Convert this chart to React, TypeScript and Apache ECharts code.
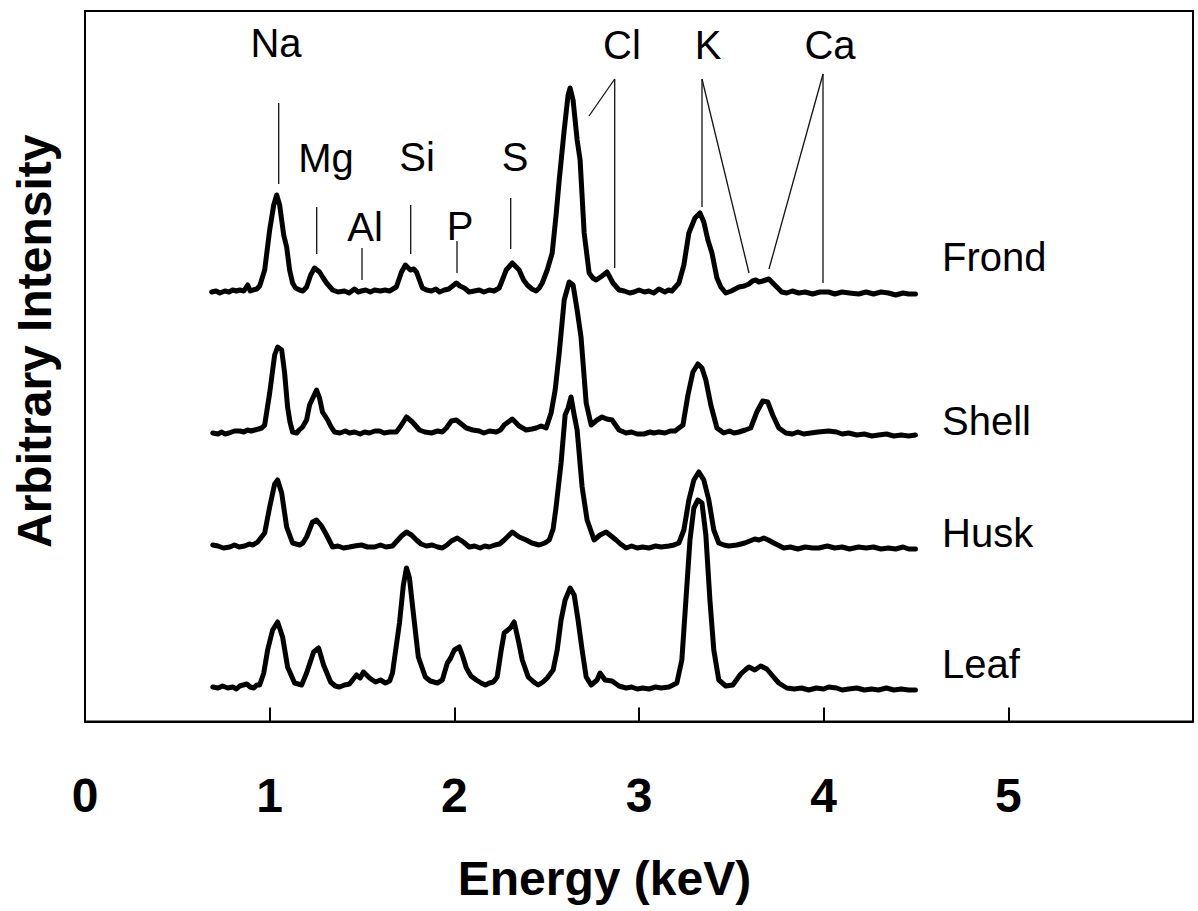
import React, { useEffect, useRef } from "react";
import * as echarts from "echarts";

// Energy (keV) / intensity above each spectrum's own baseline (arbitrary units)
const frond: [number, number][] = [
  [0.686, 0], [0.71, 1], [0.73, -1], [0.757, 1], [0.78, 0], [0.8, 2], [0.82, 1], [0.838, 2],
  [0.86, 1], [0.881, 7], [0.895, 1], [0.91, 2], [0.93, 3], [0.946, 6], [0.973, 22], [1.0, 62],
  [1.022, 87], [1.038, 97], [1.054, 87], [1.076, 57], [1.092, 45], [1.108, 22], [1.124, 9], [1.14, 4],
  [1.162, 2], [1.18, 1], [1.2, 5], [1.222, 17], [1.243, 24], [1.27, 20], [1.29, 14], [1.308, 9],
  [1.341, 2], [1.37, 0], [1.405, 1], [1.43, -1], [1.459, 3], [1.48, 0], [1.497, 1], [1.52, 2],
  [1.545, 0], [1.568, 2], [1.6, 1], [1.625, 2], [1.649, 1], [1.686, 5], [1.714, 20], [1.735, 27],
  [1.762, 22], [1.78, 23], [1.795, 20], [1.827, 4], [1.85, 2], [1.876, 1], [1.9, 3], [1.92, 0],
  [1.946, 2], [1.97, 3], [2.011, 9], [2.03, 6], [2.054, 4], [2.08, 0], [2.108, 1], [2.135, 2],
  [2.16, 0], [2.189, 2], [2.215, 1], [2.243, 4], [2.281, 22], [2.314, 29], [2.351, 22], [2.375, 12],
  [2.395, 7], [2.42, 3], [2.443, 1], [2.46, 4], [2.476, 9], [2.503, 22], [2.53, 39], [2.551, 77],
  [2.568, 112], [2.595, 162], [2.616, 197], [2.627, 204], [2.643, 192], [2.665, 152], [2.681, 132],
  [2.703, 59], [2.73, 19], [2.75, 14], [2.768, 12], [2.8, 16], [2.827, 20], [2.859, 9], [2.892, 2],
  [2.92, 1], [2.95, -1], [2.973, 0], [3.0, 2], [3.03, 0], [3.054, 1], [3.08, -1], [3.108, 3],
  [3.14, 0], [3.16, 2], [3.178, 1], [3.216, 9], [3.243, 27], [3.27, 59], [3.303, 74], [3.33, 79],
  [3.351, 70], [3.373, 52], [3.395, 39], [3.422, 14], [3.443, 5], [3.47, -1], [3.5, 1], [3.541, 5],
  [3.57, 6], [3.595, 8], [3.615, 11], [3.632, 12], [3.65, 10], [3.67, 11], [3.703, 13], [3.735, 7],
  [3.773, 0], [3.8, -1], [3.83, 1], [3.865, -1], [3.9, 0], [3.94, -2], [3.98, 0], [4.027, 0],
  [4.06, -2], [4.1, 0], [4.14, -1], [4.189, -2], [4.23, 0], [4.27, -2], [4.31, 0], [4.351, -1],
  [4.39, -3], [4.43, -1], [4.46, -2], [4.497, -2],
];

const shell: [number, number][] = [
  [0.692, 1], [0.72, 0], [0.74, 2], [0.757, 0], [0.78, 1], [0.81, 3], [0.838, 3], [0.86, 2],
  [0.88, 4], [0.9, 3], [0.919, 4], [0.94, 5], [0.957, 6], [0.973, 9], [1.0, 41], [1.027, 79],
  [1.043, 87], [1.065, 84], [1.081, 61], [1.097, 27], [1.11, 12], [1.124, 2], [1.146, 1], [1.16, 4],
  [1.178, 7], [1.2, 14], [1.216, 29], [1.254, 44], [1.27, 36], [1.286, 22], [1.314, 14], [1.33, 8],
  [1.351, 2], [1.38, 1], [1.41, 3], [1.432, 1], [1.46, 2], [1.49, 0], [1.514, 2], [1.54, 1],
  [1.57, 3], [1.595, 3], [1.62, 1], [1.65, 2], [1.686, 2], [1.71, 8], [1.741, 17], [1.773, 12],
  [1.811, 4], [1.84, 2], [1.876, 1], [1.91, 3], [1.935, 2], [1.957, 6], [1.984, 13], [2.011, 14],
  [2.038, 10], [2.065, 6], [2.1, 4], [2.135, 3], [2.16, 1], [2.19, 3], [2.227, 2], [2.25, 4],
  [2.27, 9], [2.314, 15], [2.351, 8], [2.389, 4], [2.42, 5], [2.443, 6], [2.47, 8], [2.497, 6],
  [2.524, 21], [2.546, 44], [2.568, 81], [2.595, 134], [2.622, 152], [2.643, 149], [2.665, 124],
  [2.686, 97], [2.714, 31], [2.741, 9], [2.773, 14], [2.8, 17], [2.825, 15], [2.854, 14], [2.892, 4],
  [2.93, 1], [2.96, 2], [2.99, 0], [3.027, 0], [3.06, 2], [3.08, 1], [3.108, 2], [3.14, 1],
  [3.17, 3], [3.195, 3], [3.238, 9], [3.265, 39], [3.292, 62], [3.319, 70], [3.341, 66], [3.362, 54],
  [3.389, 29], [3.422, 6], [3.459, 1], [3.49, 3], [3.515, 1], [3.541, 2], [3.575, 4], [3.605, 6],
  [3.638, 22], [3.67, 33], [3.697, 32], [3.724, 19], [3.757, 6], [3.795, 1], [3.83, 0], [3.86, 2],
  [3.892, 0], [3.93, 1], [3.97, 2], [4.027, 3], [4.07, 2], [4.1, 0], [4.135, 1], [4.18, -1],
  [4.22, 0], [4.26, -2], [4.297, -1], [4.34, 0], [4.38, -2], [4.42, -1], [4.46, -2], [4.497, -1],
];

const husk: [number, number][] = [
  [0.692, 2], [0.72, 1], [0.75, -1], [0.784, 0], [0.81, 2], [0.835, 0], [0.865, 1], [0.89, 3],
  [0.91, 2], [0.935, 5], [0.973, 14], [1.0, 40], [1.027, 63], [1.043, 67], [1.065, 54], [1.092, 20],
  [1.124, 4], [1.162, 2], [1.18, 4], [1.2, 10], [1.232, 25], [1.254, 27], [1.281, 21], [1.308, 12],
  [1.341, 0], [1.37, 1], [1.4, -1], [1.432, 0], [1.46, 1], [1.497, 2], [1.53, 0], [1.568, 0],
  [1.6, 2], [1.63, 0], [1.665, 1], [1.714, 11], [1.741, 15], [1.768, 12], [1.795, 7], [1.82, 3],
  [1.849, 1], [1.88, 2], [1.91, 0], [1.935, -1], [1.96, 2], [1.984, 6], [2.016, 9], [2.049, 5],
  [2.081, 0], [2.11, 1], [2.14, -1], [2.165, 1], [2.189, 0], [2.22, 2], [2.245, 3], [2.27, 7],
  [2.314, 15], [2.351, 10], [2.389, 7], [2.42, 4], [2.459, 2], [2.49, 4], [2.514, 7], [2.535, 18],
  [2.551, 40], [2.578, 84], [2.6, 132], [2.616, 139], [2.632, 150], [2.649, 132], [2.665, 117],
  [2.692, 60], [2.719, 27], [2.757, 7], [2.789, 12], [2.822, 15], [2.849, 11], [2.876, 7], [2.9, 3],
  [2.93, -1], [2.96, 1], [2.99, -1], [3.02, 0], [3.054, -1], [3.09, 1], [3.12, 0], [3.162, 1],
  [3.19, 2], [3.216, 4], [3.243, 17], [3.27, 47], [3.297, 67], [3.324, 75], [3.351, 67], [3.378, 47],
  [3.405, 17], [3.432, 4], [3.46, 2], [3.486, 1], [3.53, 2], [3.573, 4], [3.6, 6], [3.627, 8],
  [3.65, 7], [3.676, 9], [3.7, 7], [3.73, 4], [3.784, -1], [3.82, 0], [3.86, -2], [3.9, 0],
  [3.94, -1], [3.973, -1], [4.02, 1], [4.06, -1], [4.1, 0], [4.14, -2], [4.189, 0], [4.23, -1],
  [4.27, 0], [4.31, -2], [4.35, -1], [4.39, -2], [4.43, 0], [4.46, -2], [4.497, -2],
];

const leaf: [number, number][] = [
  [0.692, 1], [0.72, 0], [0.745, 2], [0.773, 0], [0.8, 1], [0.82, -1], [0.838, 2], [0.876, 4],
  [0.895, 1], [0.914, 0], [0.93, 3], [0.946, 3], [0.968, 15], [0.989, 38], [1.016, 58], [1.043, 66],
  [1.07, 51], [1.097, 21], [1.135, 5], [1.173, 3], [1.2, 15], [1.238, 36], [1.265, 40], [1.292, 23],
  [1.33, 6], [1.355, 2], [1.378, 1], [1.405, 3], [1.432, 4], [1.47, 13], [1.49, 10], [1.508, 16],
  [1.541, 10], [1.573, 6], [1.6, 8], [1.627, 5], [1.65, 7], [1.665, 15], [1.703, 65], [1.724, 103],
  [1.741, 120], [1.757, 110], [1.773, 83], [1.805, 31], [1.843, 11], [1.87, 7], [1.908, 5],
  [1.935, 8], [1.962, 25], [1.98, 30], [2.0, 38], [2.027, 41], [2.045, 32], [2.065, 20], [2.09, 12],
  [2.119, 8], [2.145, 5], [2.168, 3], [2.19, 5], [2.211, 6], [2.232, 11], [2.254, 38], [2.27, 55],
  [2.303, 60], [2.324, 66], [2.346, 48], [2.368, 28], [2.4, 11], [2.43, 6], [2.454, 3], [2.48, 6],
  [2.503, 10], [2.535, 18], [2.557, 38], [2.578, 68], [2.6, 88], [2.627, 100], [2.649, 93],
  [2.67, 68], [2.692, 38], [2.714, 11], [2.741, 3], [2.773, 8], [2.789, 15], [2.816, 8], [2.854, 7],
  [2.892, 2], [2.93, 0], [2.96, 1], [2.99, -1], [3.02, 0], [3.054, -1], [3.09, 1], [3.12, 0],
  [3.162, 1], [3.205, 5], [3.232, 28], [3.254, 88], [3.276, 148], [3.297, 180], [3.319, 188],
  [3.341, 185], [3.362, 153], [3.384, 88], [3.405, 38], [3.432, 8], [3.47, 2], [3.508, 3],
  [3.551, 14], [3.575, 18], [3.595, 21], [3.627, 18], [3.659, 22], [3.692, 19], [3.724, 12],
  [3.757, 5], [3.8, 0], [3.84, -1], [3.88, 0], [3.919, -2], [3.96, 0], [4.0, -1], [4.027, 1],
  [4.07, 0], [4.1, -2], [4.135, -1], [4.18, 0], [4.22, -2], [4.26, -1], [4.297, -2], [4.34, 0],
  [4.38, -2], [4.42, -1], [4.46, -2], [4.497, -2],
];

const sampleNames = ["Frond", "Shell", "Husk", "Leaf"];
const sampleOffsets = [429.5, 287.5, 174.5, 33.5];
const spectra = [frond, shell, husk, leaf];

const xTickValues = [0, 1, 2, 3, 4, 5];

export default function App() {
  const ref = useRef<HTMLDivElement>(null);

  useEffect(() => {
    if (!ref.current) return;
    document.body.style.margin = "0";
    const chart = echarts.init(ref.current, undefined, { renderer: "svg" });

    const font = "'Liberation Sans', Arial, Helvetica, sans-serif";
    const textEl = (text: string, x: number, y: number, size = 40, align = "center") => ({
      type: "text",
      x,
      y,
      silent: true,
      style: {
        text,
        fill: "#000",
        fontSize: size,
        fontFamily: font,
        align,
        verticalAlign: "middle",
      },
    });
    const seg = (x1: number, y1: number, x2: number, y2: number) => ({
      type: "line",
      silent: true,
      shape: { x1, y1, x2, y2 },
      style: { stroke: "#111", lineWidth: 1.3 },
    });

    const graphics: any[] = [
      textEl("Na", 276, 43),
      textEl("Mg", 326, 158),
      textEl("Al", 365, 227),
      textEl("Si", 417, 157),
      textEl("P", 460, 226),
      textEl("S", 515, 157),
      textEl("Cl", 622, 45),
      textEl("K", 708, 45),
      textEl("Ca", 830, 45),
      seg(278.7, 103, 278.7, 184),
      seg(316.7, 207, 316.7, 254),
      seg(362, 248, 362, 280),
      seg(410.7, 205, 410.7, 254),
      seg(457, 241, 457, 273),
      seg(510.7, 198, 510.7, 249),
      seg(614.7, 79, 614.7, 268),
      seg(614.7, 79, 589, 116),
      seg(702, 79, 702, 207),
      seg(702, 79, 749, 273),
      seg(823, 74, 823, 283),
      seg(823, 74, 769, 269),
    ];
    const sampleLabelY = [257, 421, 533, 664];
    sampleNames.forEach((n, i) => graphics.push(textEl(n, 942, sampleLabelY[i], 40, "left")));

    chart.setOption({
      animation: false,
      backgroundColor: "#fff",
      grid: {
        left: 85,
        top: 11,
        width: 1108,
        height: 710.5,
        show: true,
        borderColor: "#000",
        borderWidth: 2,
        containLabel: false,
      },
      xAxis: {
        type: "value",
        min: 0,
        max: 6,
        interval: 1,
        name: "Energy (keV)",
        nameLocation: "middle",
        nameGap: 133,
        nameTextStyle: {
          fontSize: 48,
          fontWeight: "bold",
          color: "#000",
          fontFamily: font,
          padding: [0, 69, 0, 0],
        },
        axisLine: { show: true, lineStyle: { color: "#000", width: 2 } },
        axisTick: { show: true, inside: true, length: 14, lineStyle: { color: "#000", width: 2 } },
        axisLabel: {
          margin: 50,
          fontSize: 48,
          fontWeight: "bold",
          color: "#000",
          fontFamily: font,
          formatter: (v: number) => (xTickValues.includes(v) ? String(v) : ""),
        },
        splitLine: { show: false },
      },
      yAxis: {
        type: "value",
        min: 0,
        max: 710.5,
        name: "Arbitrary Intensity",
        nameLocation: "middle",
        nameGap: 27,
        nameTextStyle: {
          fontSize: 48,
          fontWeight: "bold",
          color: "#000",
          fontFamily: font,
          padding: [0, 0, 0, 50],
        },
        axisLine: { show: true, lineStyle: { color: "#000", width: 2 } },
        axisTick: { show: false },
        axisLabel: { show: false },
        splitLine: { show: false },
      },
      series: spectra.map((pts, i) => ({
        type: "line",
        name: sampleNames[i],
        data: pts.map(([e, v]) => [e, v + sampleOffsets[i]]),
        showSymbol: false,
        symbol: "none",
        smooth: false,
        lineStyle: { color: "#000", width: 5, join: "round", cap: "round" },
        z: 3,
      })),
      graphic: graphics,
    });

    return () => chart.dispose();
  }, []);

  return (
    <div
      ref={ref}
      style={{ position: "absolute", left: 0, top: 0, width: 1198, height: 911 }}
    />
  );
}
